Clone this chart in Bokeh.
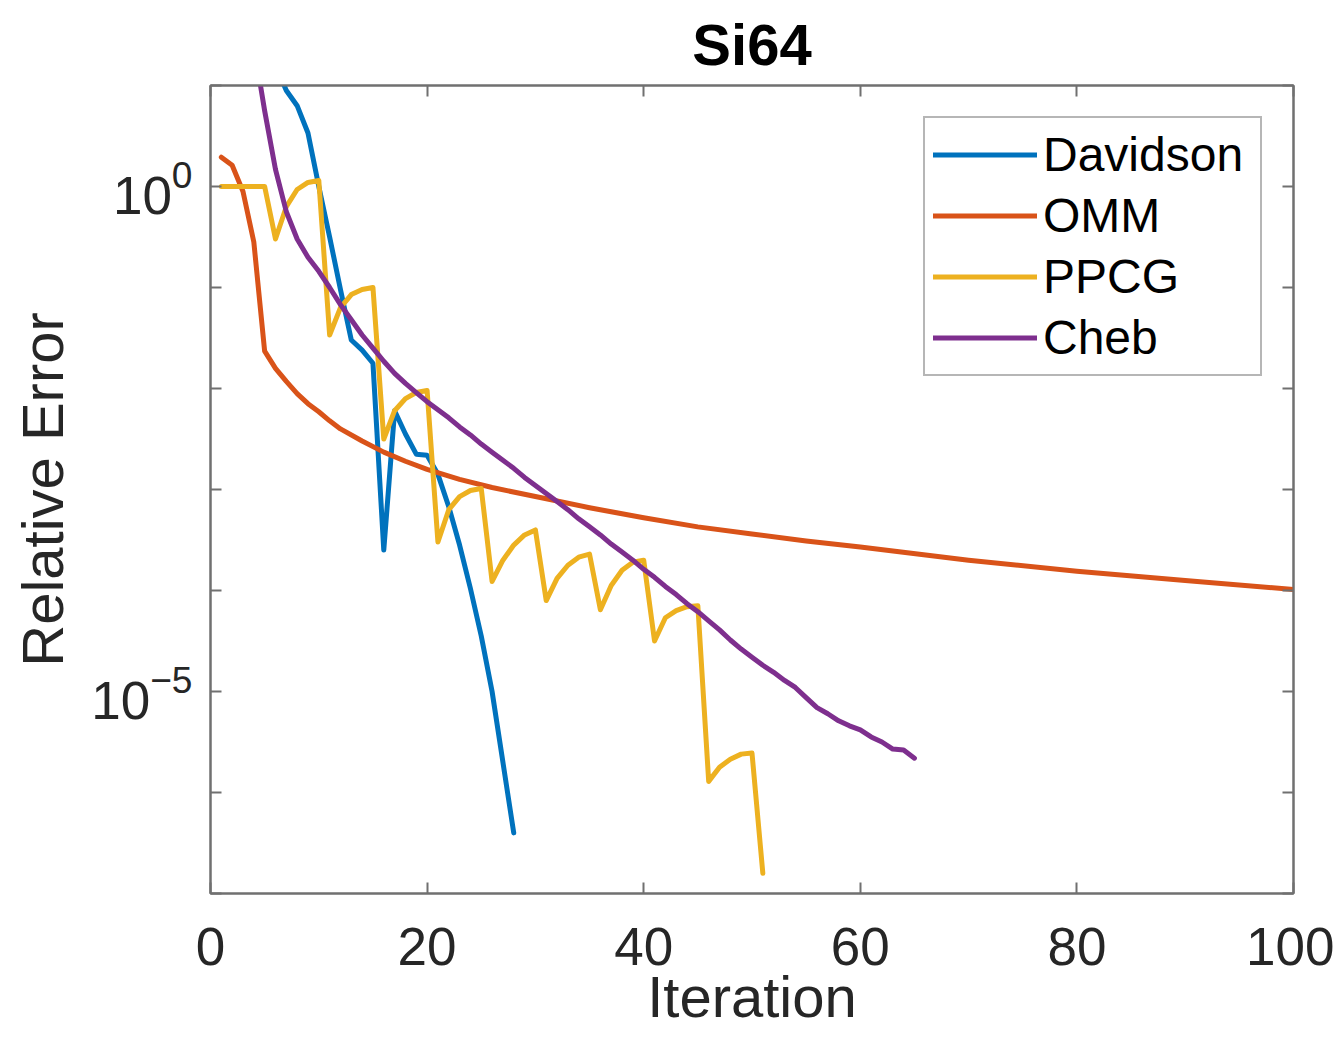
from bokeh.plotting import figure
from bokeh.models import (FixedTicker, LinearAxis, LogAxis, Range1d, Legend, LegendItem,
                          CustomJSTickFormatter)
from bokeh.embed import file_html
from bokeh.resources import INLINE
import numpy as np

# ---------------- data ----------------
title_text = "Si64"
x_label = "Iteration"
y_label = "Relative Error"
series_names = ["Davidson", "OMM", "PPCG", "Cheb"]
series_colors = ["#0072BD", "#D95319", "#EDB120", "#7E2F8E"]

x_ticks = [0, 20, 40, 60, 80, 100]
y_major_ticks = [1e-5, 1e0]
y_minor_ticks = [1e-7, 1e-6, 1e-4, 1e-3, 1e-2, 1e-1, 1e1]

davidson_iter = list(range(6, 29))
davidson_log10 = [1.2, 0.95, 0.8, 0.53, 0.0, -0.5, -1.02, -1.52, -1.62, -1.75,
                  -3.6, -2.22, -2.45, -2.65, -2.66, -2.85, -3.17, -3.55, -3.98,
                  -4.45, -5.0, -5.7, -6.4]

omm_iter = [1, 2, 3, 4, 5, 6, 7, 8, 9, 10, 11, 12, 14, 16, 18, 20, 23, 26, 30,
            35, 40, 45, 50, 55, 60, 70, 80, 90, 100]
omm_log10 = [0.29, 0.21, -0.05, -0.55, -1.63, -1.8, -1.93, -2.05, -2.15, -2.23,
             -2.32, -2.4, -2.52, -2.63, -2.72, -2.8, -2.9, -2.98, -3.07, -3.18,
             -3.28, -3.37, -3.44, -3.51, -3.57, -3.7, -3.81, -3.9, -3.99]

ppcg_iter = list(range(1, 52))
ppcg_log10 = [0.0, 0.0, 0.0, 0.0, 0.0,
              -0.52, -0.2, -0.03, 0.04, 0.06,
              -1.47, -1.2, -1.07, -1.02, -1.0,
              -2.5, -2.22, -2.1, -2.04, -2.02,
              -3.52, -3.2, -3.07, -3.01, -2.99,
              -3.91, -3.7, -3.55, -3.45, -3.4,
              -4.1, -3.88, -3.75, -3.67, -3.64,
              -4.19, -3.95, -3.8, -3.72, -3.7,
              -4.5, -4.27, -4.2, -4.16, -4.15,
              -5.89, -5.75, -5.67, -5.62, -5.61,
              -6.8]

cheb_iter = list(range(4, 66))
cheb_log10 = [1.4, 0.75, 0.17, -0.25, -0.52, -0.7, -0.84, -1.0, -1.17, -1.32,
              -1.47, -1.6, -1.73, -1.85, -1.95, -2.04, -2.13, -2.21, -2.29, -2.38,
              -2.46, -2.55, -2.63, -2.71, -2.79, -2.88, -2.96, -3.04, -3.12, -3.2,
              -3.29, -3.37, -3.45, -3.54, -3.62, -3.7, -3.79, -3.87, -3.96, -4.04,
              -4.13, -4.21, -4.3, -4.39, -4.49, -4.58, -4.66, -4.74, -4.81, -4.89,
              -4.96, -5.06, -5.16, -5.22, -5.29, -5.34, -5.38, -5.45, -5.5, -5.57,
              -5.58, -5.66]

# ---------------- figure ----------------
FONT = "Liberation Sans"
AX_COLOR = "#707070"
TXT_COLOR = "#262626"

p = figure(width=1334, height=1032, x_range=Range1d(0, 100), y_range=Range1d(1e-7, 10),
           y_axis_type="log", output_backend="svg", toolbar_location=None,
           min_border_left=210, min_border_right=41, min_border_top=85, min_border_bottom=139)

p.title.text = title_text
p.title.align = "center"
p.title.text_font = FONT
p.title.text_font_size = "58px"
p.title.text_font_style = "bold"
p.title.text_color = "#000000"
p.title.standoff = 17

p.grid.visible = False
p.outline_line_color = AX_COLOR
p.outline_line_width = 2
p.background_fill_color = "white"
p.border_fill_color = "white"

# bottom axis
xa = p.xaxis[0]
xa.ticker = FixedTicker(ticks=x_ticks)
xa.axis_label = x_label
# left axis
ya = p.yaxis[0]
ya.ticker = FixedTicker(ticks=y_major_ticks, minor_ticks=y_minor_ticks)
ya.axis_label = y_label

for ax in (xa, ya):
    ax.axis_line_color = AX_COLOR
    ax.axis_line_width = 2
    ax.major_tick_line_color = AX_COLOR
    ax.minor_tick_line_color = AX_COLOR
    ax.major_tick_line_width = 2
    ax.minor_tick_line_width = 2
    ax.major_tick_in = 11
    ax.major_tick_out = 0
    ax.minor_tick_in = 11
    ax.minor_tick_out = 0
    ax.major_label_text_font = FONT
    ax.major_label_text_font_size = "53px"
    ax.major_label_text_color = TXT_COLOR
    ax.axis_label_text_font = FONT
    ax.axis_label_text_font_size = "58px"
    ax.axis_label_text_font_style = "normal"
    ax.axis_label_text_color = TXT_COLOR

xa.major_label_standoff = 34
xa.axis_label_standoff = -4
ya.major_label_standoff = 18
ya.axis_label_standoff = 13

# box ticks on top and right
top = LinearAxis(ticker=FixedTicker(ticks=x_ticks),
                 formatter=CustomJSTickFormatter(code="return ''"))
right = LogAxis(ticker=FixedTicker(ticks=y_major_ticks, minor_ticks=y_minor_ticks),
                formatter=CustomJSTickFormatter(code="return ''"))
for ax in (top, right):
    ax.axis_line_color = AX_COLOR
    ax.axis_line_width = 2
    ax.major_tick_line_color = AX_COLOR
    ax.minor_tick_line_color = AX_COLOR
    ax.major_tick_line_width = 2
    ax.minor_tick_line_width = 2
    ax.major_tick_in = 11
    ax.major_tick_out = 0
    ax.minor_tick_in = 11
    ax.minor_tick_out = 0
    ax.major_label_text_font_size = "0px"
    ax.major_label_standoff = 0
    ax.axis_label_standoff = 0
p.add_layout(top, "above")
p.add_layout(right, "right")

# ---------------- lines ----------------
all_iters = [davidson_iter, omm_iter, ppcg_iter, cheb_iter]
all_logs = [davidson_log10, omm_log10, ppcg_log10, cheb_log10]
items = []
for name, color, xs, ls in zip(series_names, series_colors, all_iters, all_logs):
    r = p.line(xs, np.power(10.0, np.array(ls)), line_color=color, line_width=5,
               line_join="round", line_cap="round")
    items.append(LegendItem(label=name, renderers=[r]))

legend = Legend(items=items, location="top_right", margin=31, padding=8, spacing=4,
                glyph_width=104, glyph_height=57, label_standoff=6, label_width=209,
                label_height=57,
                label_text_font=FONT, label_text_font_size="48px", label_text_color="#000000",
                border_line_color="#6e6e6e", border_line_width=2,
                background_fill_color="white", background_fill_alpha=1.0)
p.add_layout(legend)

open("out.html", "w").write(file_html(p, INLINE))
